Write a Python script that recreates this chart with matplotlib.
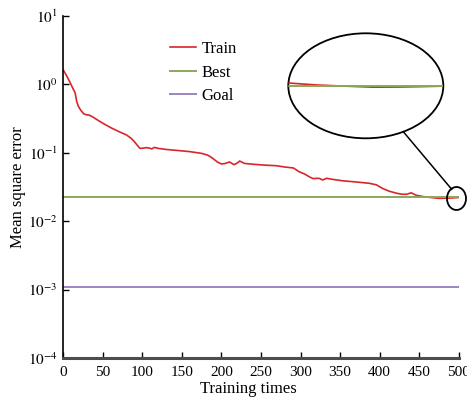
import numpy as np
import matplotlib
matplotlib.use("Agg")
import matplotlib.pyplot as plt
from matplotlib.patches import Ellipse
from matplotlib.lines import Line2D

plt.rcParams["font.family"] = ["Liberation Serif", "DejaVu Serif"]
plt.rcParams["mathtext.fontset"] = "stix"

# Training record
epochs = [0, 4, 8, 12, 15, 17, 19, 22, 26, 30, 33, 38, 44, 52, 61, 70, 80, 86, 90,
          94, 97, 101, 105, 109, 112, 115, 120, 130, 145, 160, 175, 183, 189, 195,
          200, 205, 210, 216, 220, 223, 229, 240, 255, 269, 280, 291, 298, 305, 312,
          316, 321, 324, 328, 333, 340, 353, 370, 387, 396, 404, 412, 421, 428, 434,
          440, 446, 455, 465, 475, 485, 492, 500]
train_mse = [1.62, 1.35, 1.10, 0.88, 0.75, 0.56, 0.48, 0.42, 0.37, 0.358, 0.355, 0.33,
             0.298, 0.262, 0.230, 0.205, 0.182, 0.162, 0.145, 0.127, 0.116, 0.117, 0.119,
             0.117, 0.114, 0.120, 0.116, 0.112, 0.108, 0.104, 0.098, 0.092, 0.083, 0.073,
             0.0686, 0.070, 0.0734, 0.067, 0.071, 0.0758, 0.070, 0.068, 0.066, 0.0648,
             0.062, 0.060, 0.053, 0.049, 0.044, 0.0419, 0.0424, 0.0421, 0.040, 0.0424,
             0.041, 0.039, 0.0375, 0.0358, 0.034, 0.030, 0.0275, 0.0257, 0.0248, 0.0247,
             0.026, 0.0240, 0.0229, 0.0222, 0.0216, 0.0217, 0.0219, 0.0222]
best_mse = 0.0224
goal_mse = 0.00108
x_range = [0, 500]

x_ticks = [0, 50, 100, 150, 200, 250, 300, 350, 400, 450, 500]
y_ticks = [1e-4, 1e-3, 1e-2, 1e-1, 1e0, 1e1]
y_tick_labels = [r"$10^{-4}$", r"$10^{-3}$", r"$10^{-2}$", r"$10^{-1}$", r"$10^{0}$", r"$10^{1}$"]

RED = "#d9252b"
GREEN = "#8aa85a"
PURPLE = "#9a86c0"

W, H = 467, 403
fig = plt.figure(figsize=(W / 100, H / 100), dpi=100)
ax = fig.add_axes([63.3 / W, 1 - 358 / H, (458.7 - 63.3) / W, (358 - 16) / H])

ax.plot(epochs, train_mse, color=RED, lw=1.2, label="Train")
ax.plot(x_range, [best_mse, best_mse], color=GREEN, lw=1.4, label="Best")
ax.plot(x_range, [goal_mse, goal_mse], color=PURPLE, lw=1.4, label="Goal")

ax.set_yscale("log")
ax.set_xlim(0, 500)
ax.set_ylim(1e-4, 1e1)
ax.set_xticks(x_ticks)
ax.set_yticks(y_ticks, y_tick_labels)
ax.minorticks_off()
ax.tick_params(direction="in", labelsize=11, length=4, width=1)
ax.tick_params(axis="x", pad=6)
ax.tick_params(axis="y", pad=4)
for s in ("top", "right"):
    ax.spines[s].set_visible(False)
ax.spines["left"].set_linewidth(1.2)
ax.spines["bottom"].set_linewidth(2.2)
ax.spines["bottom"].set_color("#4d4d4d")

ax.set_xlabel("Training times", fontsize=12)
ax.xaxis.set_label_coords((248.5 - 63.3) / (458.7 - 63.3), -0.066)
ax.set_ylabel("Mean square error", fontsize=12)
ax.yaxis.set_label_coords(-(63.3 - 26) / (458.7 - 63.3), 0.5)

ax.legend(loc="upper left", bbox_to_anchor=(0.232, 0.97), frameon=False, fontsize=12,
          handlelength=1.55, handletextpad=0.35, labelspacing=0.45)

# Magnified view near the end of training
ins = fig.add_axes([288.3 / W, 1 - 138.3 / H, 155 / W, 105 / H])
ins.set_yscale("log")
ins.set_xlim(445, 500)
ins.set_ylim(best_mse / 4, best_mse * 4)
ins.axis("off")
clip = Ellipse((0.5, 0.5), 1.0, 1.0, transform=ins.transAxes, facecolor="none",
               edgecolor="none")
ins.add_patch(clip)
l1, = ins.plot(epochs, train_mse, color=RED, lw=1.2)
l2, = ins.plot(x_range, [best_mse, best_mse], color=GREEN, lw=1.4)
for ln in (l1, l2):
    ln.set_clip_path(clip)
ins.add_patch(Ellipse((0.5, 0.5), 1.0, 1.0, transform=ins.transAxes, facecolor="none",
                      edgecolor="black", lw=1.3, clip_on=False))

# Marker circle around the magnified region and its connector
fig.add_artist(Ellipse((456.5 / W, 1 - 198.5 / H), 19 / W, 23 / H,
                       transform=fig.transFigure, facecolor="none",
                       edgecolor="black", lw=1.3))
fig.add_artist(Line2D([403.3 / W, 451.7 / W], [1 - 131.7 / H, 1 - 189.3 / H],
                      transform=fig.transFigure, color="black", lw=1.1))

fig.savefig("out.png", dpi=100)
